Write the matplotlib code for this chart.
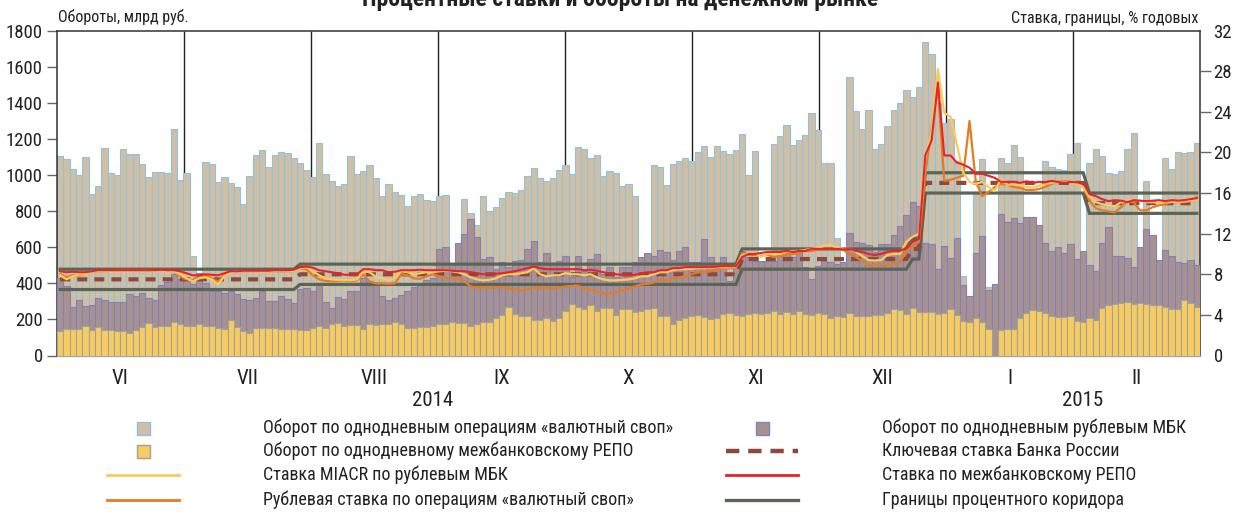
import numpy as np
import matplotlib
matplotlib.use("Agg")
import matplotlib.pyplot as plt
from matplotlib import font_manager as fm
from matplotlib.patches import Rectangle
from matplotlib.lines import Line2D
import matplotlib.transforms as mtransforms

# ------------------------------------------------------------------ data
months = ["VI", "VII", "VIII", "IX", "X", "XI", "XII", "I", "II"]
years = ["2014", "2015"]
nan = np.nan

# overnight FX swap turnover, bn RUB
swap_turnover = [
    1107, 1089, 1031, 1000, 1101, 895, 941, 1149, 1013, 1000,
    1142, 1116, 1116, 1063, 989, 1018, 1018, 1009, 1253, 972,
    1013, 550, nan, 1074, 1061, 961, 989, 954, 935, 839,
    994, 1111, 1140, 1046, 1113, 1127, 1122, 1096, 1066, 1026,
    991, 1175, 1003, 969, 937, 952, 1103, 1007, 1024, 1055,
    986, 882, 952, 906, 890, 827, 885, 893, 862, 854,
    884, 889, nan, nan, 865, 791, 725, 882, 803, 821,
    871, 906, 900, 917, 993, 1039, 985, 967, 982, 1028,
    1057, 1005, 1153, 1144, 1094, 1111, 994, 1022, 1009, 941,
    950, 886, nan, nan, 1055, 1044, 943, 1059, 1077, 1096,
    1079, 1127, 1159, 1098, 1159, 1133, 1118, 1137, 1229, 1002,
    1133, nan, nan, 1172, 1216, 1279, 1166, 1194, 1221, 1343,
    1249, 1066, 1066, 653, nan, 1545, 1355, 1257, 1359, 1146,
    1169, 1271, 1359, 1398, 1470, 1430, 1490, 1737, 1668, 1400,
    1286, 1309, 1080, 443, 328, 895, 1089, 382, 385, 1092,
    1065, 1166, 1101, nan, nan, nan, 1080, 1044, 1035, 1030,
    1116, 1179, nan, 1066, 1143, 1103, 1009, 1004, 1024, 1143,
    1234, nan, 965, nan, nan, 1094, 1036, 1125, 1120, 1126,
    1180]

# overnight interbank (MBK) turnover, bn RUB
mbk_turnover = [
    427, 385, 268, 305, 272, 279, 316, 307, 294, 294,
    295, 341, 328, 349, 317, 308, 388, 406, 452, 424,
    420, 395, 456, 400, 360, 355, 345, 355, 340, 312,
    308, 318, 355, 300, 300, 330, 312, 292, 368, 375,
    360, 400, 296, 265, 326, 315, 358, 358, 430, 414,
    400, 330, 310, 320, 335, 360, 380, 400, 420, 430,
    590, 600, 507, 624, 673, 756, 655, 535, 544, 480,
    517, 490, 526, 530, 590, 637, 517, 566, 507, 526,
    552, 434, 552, 470, 535, 563, 452, 489, 434, 493,
    493, 517, 548, 568, 554, 585, 572, 530, 581, 603,
    517, 517, 644, 544, 507, 548, 415, 507, 581, 544,
    526, 526, 526, 526, 572, 566, 544, 572, 489, 424,
    498, 526, 517, 507, 520, 681, 631, 622, 614, 572,
    618, 618, 670, 720, 779, 852, 827, 625, 618, 480,
    607, 539, 651, 393, 330, 566, 660, 363, 397, 782,
    742, 760, 732, 766, 766, 725, 622, 577, 603, 566,
    618, 535, 577, 502, 470, 622, 710, 554, 554, 539,
    493, 603, 701, 668, 530, 585, 554, 517, 511, 530,
    502]

# overnight interbank REPO turnover, bn RUB
repo_turnover = [
    135, 146, 146, 146, 161, 144, 159, 140, 140, 138,
    133, 122, 140, 159, 181, 159, 161, 161, 185, 177,
    164, 164, 172, 166, 164, 151, 148, 194, 157, 133,
    125, 151, 155, 155, 155, 149, 146, 146, 140, 144,
    151, 162, 151, 175, 181, 166, 170, 170, 146, 172,
    168, 175, 177, 188, 175, 151, 153, 157, 159, 166,
    172, 175, 188, 181, 179, 164, 173, 183, 188, 207,
    225, 269, 232, 220, 220, 194, 194, 207, 190, 210,
    247, 286, 268, 256, 282, 249, 262, 262, 225, 258,
    258, 240, 244, 256, 262, 220, 218, 175, 199, 208,
    220, 225, 214, 201, 207, 231, 236, 227, 221, 229,
    238, 229, 234, 245, 232, 240, 232, 249, 231, 225,
    238, 229, 208, 220, 214, 234, 221, 221, 221, 227,
    227, 238, 255, 253, 229, 262, 242, 240, 242, 229,
    234, 256, 223, 192, 188, 205, 188, 146, 0, 140,
    146, 146, 208, 238, 253, 247, 238, 218, 212, 214,
    221, 192, 183, 205, 197, 262, 279, 286, 292, 297,
    286, 290, 286, 280, 280, 268, 260, 260, 308, 290,
    268]

# MIACR rate, % p.a.
miacr_rate = [
    7.9, 7.5, 7.8, 8.0, 8.0, 8.3, 8.3, 8.3, 8.3, 8.3,
    8.3, 8.3, 8.35, 8.35, 8.35, 8.3, 8.35, 8.3, 8.3, 8.0,
    7.6, 7.3, 7.6, 7.7, 7.5, 7.0, 7.8, 8.2, 8.3, 8.3,
    8.3, 8.3, 8.25, 8.3, 8.3, 8.35, 8.3, 8.3, 8.6, 8.7,
    8.3, 7.9, 7.6, 7.5, 7.45, 7.45, 7.4, 7.5, 8.3, 8.2,
    7.75, 7.6, 7.45, 7.6, 8.3, 8.2, 8.0, 8.1, 8.2, 8.2,
    8.3, 8.35, 8.3, 8.2, 8.0, 7.7, 7.5, 7.4, 7.45, 7.6,
    7.9, 8.0, 8.0, 8.1, 8.2, 8.6, 8.0, 7.8, 7.9, 7.9,
    8.1, 8.0, 8.0, 7.9, 8.0, 7.7, 7.5, 7.4, 7.4, 7.45,
    7.5, 7.6, 7.8, 7.8, 8.0, 8.2, 8.2, 8.4, 8.5, 8.5,
    8.55, 8.6, 8.6, 8.65, 8.7, 8.7, 8.7, 8.75, 9.9, 10.0,
    10.1, 9.7, 10.0, 10.0, 10.0, 10.2, 10.3, 10.3, 10.4, 10.5,
    10.6, 10.8, 10.9, 10.6, 10.5, 10.5, 10.2, 9.8, 9.4, 9.35,
    9.4, 9.9, 10.0, 10.0, 11.2, 11.7, 12.0, 19.4, 22.1, 28.2,
    23.9, 23.5, 20.8, 18.0, 17.1, 16.9, 17.1, 16.6, 16.2, 17.4,
    16.8, 16.9, 16.8, 16.6, 16.55, 16.7, 16.9, 17.0, 17.1, 17.1,
    17.1, 16.9, 16.6, 15.6, 15.1, 14.9, 14.8, 14.7, 15.1, 15.25,
    15.3, 15.25, 15.1, 15.1, 15.0, 15.1, 15.15, 15.1, 15.2, 15.25,
    15.4]

# rouble rate on FX swap operations, % p.a.
swap_rate = [
    8.0, 7.7, 7.9, 7.9, 8.0, 8.3, 8.3, 8.3, 8.35, 8.4,
    8.4, 8.4, 8.4, 8.4, 8.4, 8.4, 8.35, 8.35, 8.3, 7.8,
    7.5, 7.4, 7.9, 7.9, 7.6, 7.3, 7.9, 8.25, 8.3, 8.3,
    8.3, 8.3, 8.3, 8.3, 8.3, 8.3, 8.3, 8.3, 8.6, 8.5,
    7.9, 7.5, 7.35, 7.3, 7.35, 7.4, 7.3, 7.4, 8.0, 7.3,
    7.1, 7.1, 7.05, 7.1, 8.0, 7.9, 7.6, 7.55, 7.8, 8.0,
    7.8, 7.7, 7.6, 7.55, 7.3, 6.8, 6.7, 6.7, 6.65, 6.7,
    6.75, 6.6, 6.5, 6.4, 6.5, 6.7, 6.65, 6.7, 6.6, 6.7,
    6.8, 6.85, 6.9, 6.6, 6.5, 6.3, 6.1, 6.1, 6.2, 6.4,
    6.6, 6.8, 7.0, 7.05, 7.2, 7.4, 7.4, 7.5, 7.7, 7.8,
    8.0, 8.2, 8.2, 8.3, 8.5, 8.6, 8.6, 8.7, 10.1, 9.9,
    9.9, 9.8, 9.9, 9.7, 9.8, 10.0, 10.0, 10.1, 10.3, 10.3,
    10.4, 10.5, 10.5, 10.5, 10.4, 10.0, 9.7, 9.3, 8.9, 8.85,
    8.85, 8.9, 9.1, 9.2, 10.3, 10.7, 11.2, 17.9, 22.5, 26.4,
    17.2, 17.3, 17.5, 17.7, 23.1, 17.1, 15.7, 16.1, 16.6, 16.9,
    16.8, 16.6, 16.5, 16.3, 16.3, 16.4, 16.6, 16.9, 17.1, 17.2,
    17.1, 16.9, 16.6, 15.25, 14.5, 14.3, 14.2, 14.1, 14.6, 15.2,
    15.1, 14.3, 14.3, 14.6, 14.8, 14.9, 15.1, 15.1, 15.1, 15.2,
    15.6]

# interbank REPO rate, % p.a.
repo_rate = [
    8.3, 8.2, 8.25, 8.2, 8.2, 8.3, 8.4, 8.4, 8.4, 8.4,
    8.4, 8.4, 8.4, 8.4, 8.4, 8.4, 8.45, 8.4, 8.4, 8.3,
    8.1, 7.9, 7.9, 8.0, 7.95, 7.9, 8.1, 8.3, 8.3, 8.35,
    8.35, 8.35, 8.35, 8.35, 8.4, 8.4, 8.4, 8.45, 8.7, 8.75,
    8.65, 8.4, 8.3, 8.2, 8.1, 7.95, 7.95, 8.0, 8.5, 8.5,
    8.4, 8.4, 8.2, 8.25, 8.4, 8.4, 8.4, 8.45, 8.4, 8.4,
    8.4, 8.4, 8.35, 8.3, 8.3, 8.2, 8.1, 8.0, 8.0, 8.05,
    8.1, 8.2, 8.3, 8.45, 8.6, 8.75, 8.6, 8.5, 8.5, 8.5,
    8.5, 8.5, 8.5, 8.4, 8.45, 8.35, 8.2, 8.1, 8.0, 7.95,
    7.9, 7.95, 8.1, 8.2, 8.2, 8.4, 8.4, 8.6, 8.6, 8.7,
    8.7, 8.7, 8.7, 8.7, 8.75, 8.8, 8.8, 8.8, 9.7, 10.0,
    10.0, 10.1, 10.2, 10.2, 10.2, 10.3, 10.2, 10.3, 10.3, 10.5,
    10.5, 10.5, 10.5, 10.5, 10.45, 10.5, 10.3, 10.2, 10.0, 9.9,
    10.0, 10.2, 10.3, 10.3, 10.6, 11.2, 11.5, 19.7, 21.2, 26.9,
    19.7, 19.7, 19.0, 18.8, 18.5, 17.9, 17.9, 17.7, 17.5, 17.1,
    17.1, 17.1, 17.0, 17.15, 17.0, 17.1, 17.05, 17.2, 17.1, 17.0,
    17.1, 17.05, 17.0, 15.9, 15.7, 15.4, 15.2, 15.3, 15.25, 15.1,
    15.3, 15.25, 15.2, 15.25, 15.3, 15.2, 15.3, 15.25, 15.3, 15.4,
    15.5]

# Bank of Russia key rate: (rate, number of trading days)
key_rate_steps = [(7.5, 38), (8.0, 70), (9.5, 27), (10.5, 2), (17.0, 26), (15.0, 18)]
corridor_halfwidth = 1.0   # corridor = key rate +/- 1 p.p.

# ------------------------------------------------------------------ fonts
avail = {f.name for f in fm.fontManager.ttflist}
FONT, SF = "Liberation Sans", 0.86
for cand in ["Liberation Sans Narrow", "Roboto Condensed", "Open Sans Condensed"]:
    if cand in avail:
        FONT, SF = cand, 1.0
        break
plt.rcParams["font.family"] = [FONT, "DejaVu Sans"]

# ------------------------------------------------------------------ colours
TAN, TAN_E = "#D0BFA5", "#8DC2E0"
MAUVE, MAUVE_E = "#A8928F", "#7E80C2"
YEL, YEL_E = "#F6CC62", "#A2A29C"
C_MIACR = "#FBC95A"
C_SWAP = "#E57B22"
C_REPO = "#E8232A"
C_KEY = "#8C4A3A"
C_COR = "#5B6555"
TXT = "#222222"

key_rate = np.concatenate([np.full(n, v) for v, n in key_rate_steps])
cor_up = key_rate + corridor_halfwidth
cor_lo = key_rate - corridor_halfwidth

n = len(swap_turnover)
x = np.arange(n)

W, H = 1242, 523
fig = plt.figure(figsize=(W / 100, H / 100), dpi=100)
top_px, bot_px, left_px, right_px = 30.6, 355.5, 57, 1200
ax = fig.add_axes([left_px / W, 1 - bot_px / H, (right_px - left_px) / W, (bot_px - top_px) / H])

# month separators
bounds = -0.5 + np.arange(1, len(months)) * n / len(months)
ax.vlines(bounds, 0, 1800, color="#222222", lw=1.0, zorder=1)

ax.bar(x, swap_turnover, width=1.0, color=TAN, edgecolor=TAN_E, linewidth=0.8, zorder=2)
ax.bar(x, mbk_turnover, width=1.0, color=MAUVE, edgecolor=MAUVE_E, linewidth=0.8, zorder=3)
ax.bar(x, repo_turnover, width=1.0, color=YEL, edgecolor=YEL_E, linewidth=0.8, zorder=4)

ax.set_xlim(-0.5, n - 0.5)
ax.set_ylim(0, 1800)
ax.set_xticks([])
ax.set_yticks(np.arange(0, 1801, 200))
ax.tick_params(axis="y", direction="out", length=7.2, width=1.0, color="#666666",
               labelsize=13.5 * SF, pad=3, labelcolor=TXT)
yt = ax.yaxis.get_major_ticks()
yt[0].tick1line.set_visible(False)
yt[-1].tick1line.set_visible(False)
for s in ["top", "left", "right"]:
    ax.spines[s].set_color("#333333")
    ax.spines[s].set_linewidth(1.1)
ax.spines["bottom"].set_color("#A8A8A8")
ax.spines["bottom"].set_linewidth(1.0)

ax2 = ax.twinx()
ax2.set_ylim(0, 32)
ax2.set_xlim(-0.5, n - 0.5)
ax2.set_yticks(np.arange(0, 33, 4))
ax2.tick_params(axis="y", direction="out", length=7.8, width=1.0, color="#666666",
                labelsize=13.5 * SF, pad=2, labelcolor=TXT)
yt2 = ax2.yaxis.get_major_ticks()
yt2[0].tick2line.set_visible(False)
yt2[-1].tick2line.set_visible(False)
for s in ax2.spines.values():
    s.set_visible(False)

ax2.plot(x, cor_up, color=C_COR, lw=2.3, zorder=3, solid_joinstyle="miter")
ax2.plot(x, cor_lo, color=C_COR, lw=2.3, zorder=3, solid_joinstyle="miter")
ax2.plot(x, key_rate, color=C_KEY, lw=3.0, ls=(0, (2.4, 1.7)), zorder=4)
ax2.plot(x, swap_rate, color=C_SWAP, lw=1.6, zorder=5)
ax2.plot(x, miacr_rate, color=C_MIACR, lw=1.6, zorder=6)
ax2.plot(x, repo_rate, color=C_REPO, lw=1.5, zorder=7)

# month labels
trans = mtransforms.blended_transform_factory(ax.transData, ax.transAxes)
centers = -0.5 + (np.arange(len(months)) + 0.5) * n / len(months)
ylab = (bot_px - 378) / (bot_px - top_px)
for c, m in zip(centers, months):
    ax.text(c, ylab, m, transform=trans, ha="center", va="center",
            fontsize=15 * SF, color=TXT)

# overlay in pixel coordinates for texts and legend
lax = fig.add_axes([0, 0, 1, 1])
lax.set_xlim(0, W)
lax.set_ylim(H, 0)
lax.axis("off")
lax.patch.set_visible(False)

lax.text(620, 6, "Процентные ставки и обороты на денежном рынке", ha="center",
         va="baseline", fontsize=17 * SF, fontweight="bold", color=TXT)
lax.text(58, 17, "Обороты, млрд руб.", ha="left", va="center", fontsize=11.5 * SF, color=TXT)
lax.text(1198, 19, "Ставка, границы, % годовых", ha="right", va="center",
         fontsize=11.5 * SF, color=TXT)
lax.text(433, 401, years[0], ha="center", va="center", fontsize=15 * SF, color=TXT)
lax.text(1083, 401, years[1], ha="center", va="center", fontsize=15 * SF, color=TXT)

rows = [428, 451, 475, 500]
legend_col1 = [
    ("box", TAN, TAN_E, "Оборот по однодневным операциям «валютный своп»"),
    ("box", YEL, YEL_E, "Оборот по однодневному межбанковскому РЕПО"),
    ("line", C_MIACR, "-", "Ставка MIACR по рублевым МБК"),
    ("line", C_SWAP, "-", "Рублевая ставка по операциям «валютный своп»"),
]
legend_col2 = [
    ("box", MAUVE, MAUVE_E, "Оборот по однодневным рублевым МБК"),
    ("dash", C_KEY, None, "Ключевая ставка Банка России"),
    ("line", C_REPO, "-", "Ставка по межбанковскому РЕПО"),
    ("line", C_COR, "-", "Границы процентного коридора"),
]
for (cx, tx), items in [((143, 263), legend_col1), ((762, 882), legend_col2)]:
    for y, it in zip(rows, items):
        kind = it[0]
        if kind == "box":
            lax.add_patch(Rectangle((cx - 6.5, y - 6.5), 13, 13, facecolor=it[1],
                                    edgecolor=it[2], lw=1.0))
        elif kind == "dash":
            lax.add_line(Line2D([cx - 36, cx + 36], [y, y], color=it[1], lw=3.2,
                                ls=(0, (3.0, 2.0))))
        else:
            lw = 2.4 if it[1] == C_COR else 2.0
            lax.add_line(Line2D([cx - 36, cx + 36], [y, y], color=it[1], lw=lw))
        lax.text(tx, y, it[3], ha="left", va="center", fontsize=13 * SF, color=TXT)

fig.savefig("out.png", dpi=100)
